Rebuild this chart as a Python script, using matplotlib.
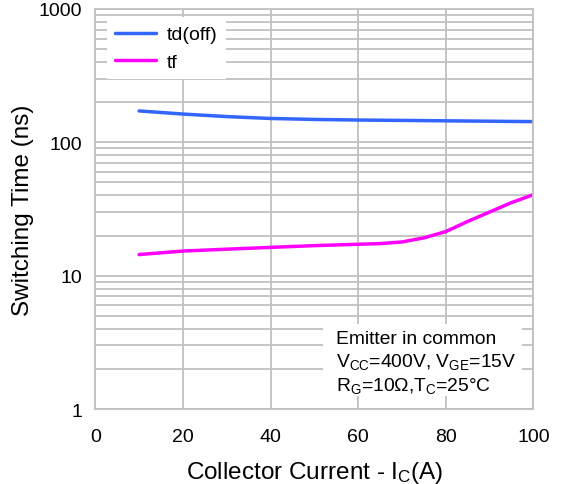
import matplotlib
matplotlib.use("Agg")
import matplotlib.pyplot as plt
from matplotlib.patches import Rectangle

plt.rcParams['font.family'] = ['Liberation Sans', 'DejaVu Sans']
plt.rcParams['mathtext.fontset'] = 'custom'
plt.rcParams['mathtext.rm'] = 'Liberation Sans'

# data
td_off_ic = [10, 20, 30, 40, 50, 60, 70, 80, 90, 100]
td_off_ns = [172, 163, 156, 151, 148.5, 147, 146, 145, 144, 143]

tf_ic = [10, 20, 30, 40, 50, 60, 65, 70, 75, 80, 85, 90, 95, 100]
tf_ns = [14.4, 15.3, 15.8, 16.3, 16.8, 17.2, 17.4, 17.9, 19.2, 21.4, 25.5, 30.0, 35.3, 40.5]

grid_col = '#c0c0c0'

fig = plt.figure(figsize=(5.64, 4.85), dpi=100)
ax = fig.add_axes([0.169, 0.1546, 0.7766, 0.8248])

ax.plot(td_off_ic, td_off_ns, color='#3366ff', lw=2.5, label='td(off)', solid_capstyle='round')
ax.plot(tf_ic, tf_ns, color='#ff00ff', lw=2.5, label='tf', solid_capstyle='round')

ax.set_yscale('log')
ax.set_xlim(0, 100)
ax.set_ylim(1, 1000)
ax.set_xticks([0, 20, 40, 60, 80, 100])
ax.set_yticks([1, 10, 100, 1000])
ax.set_yticklabels(['1', '10', '100', '1000'])
ax.yaxis.set_minor_formatter(matplotlib.ticker.NullFormatter())

ax.grid(True, which='major', color=grid_col, lw=1.3)
ax.grid(True, which='minor', axis='y', color=grid_col, lw=1.3)
ax.set_axisbelow(True)
for s in ax.spines.values():
    s.set_color(grid_col)
    s.set_linewidth(1.3)
ax.tick_params(which='both', length=0, labelsize=14)
ax.tick_params(axis='x', pad=13.5)
ax.tick_params(axis='y', pad=9.5)

ax.set_ylabel('Switching Time (ns)', fontsize=17.5)
ax.set_xlabel(r'Collector Current - $\mathregular{I_C}$(A)', fontsize=17.5)
ax.yaxis.set_label_coords(-0.14, 0.5)
ax.xaxis.set_label_coords(0.5, -0.125)

fig.text(0.557, 1 - 0.5 / 485, 'Collector Current', fontsize=14,
         ha='center', va='baseline', color='#333333')

leg = ax.legend(loc='upper left', bbox_to_anchor=(0.026, 0.98), fontsize=14,
                frameon=True, fancybox=False, edgecolor='none', facecolor='white',
                framealpha=1, handlelength=2.06, borderaxespad=0, borderpad=0.45,
                labelspacing=0.5, handletextpad=0.57)

ax.add_patch(Rectangle((0.52, 0.0325), 0.454, 0.18, transform=ax.transAxes,
                       facecolor='white', edgecolor='none', zorder=3))
note = ('Emitter in common\n'
        r'$\mathregular{V_{CC}}$=400V, $\mathregular{V_{GE}}$=15V' '\n'
        r'$\mathregular{R_G}$=10Ω,$\mathregular{T_C}$=25°C')
ax.text(0.549, 0.198, note, transform=ax.transAxes, fontsize=13.9, va='top',
        ha='left', linespacing=1.28, zorder=4)

fig.savefig('out.png', dpi=100)
